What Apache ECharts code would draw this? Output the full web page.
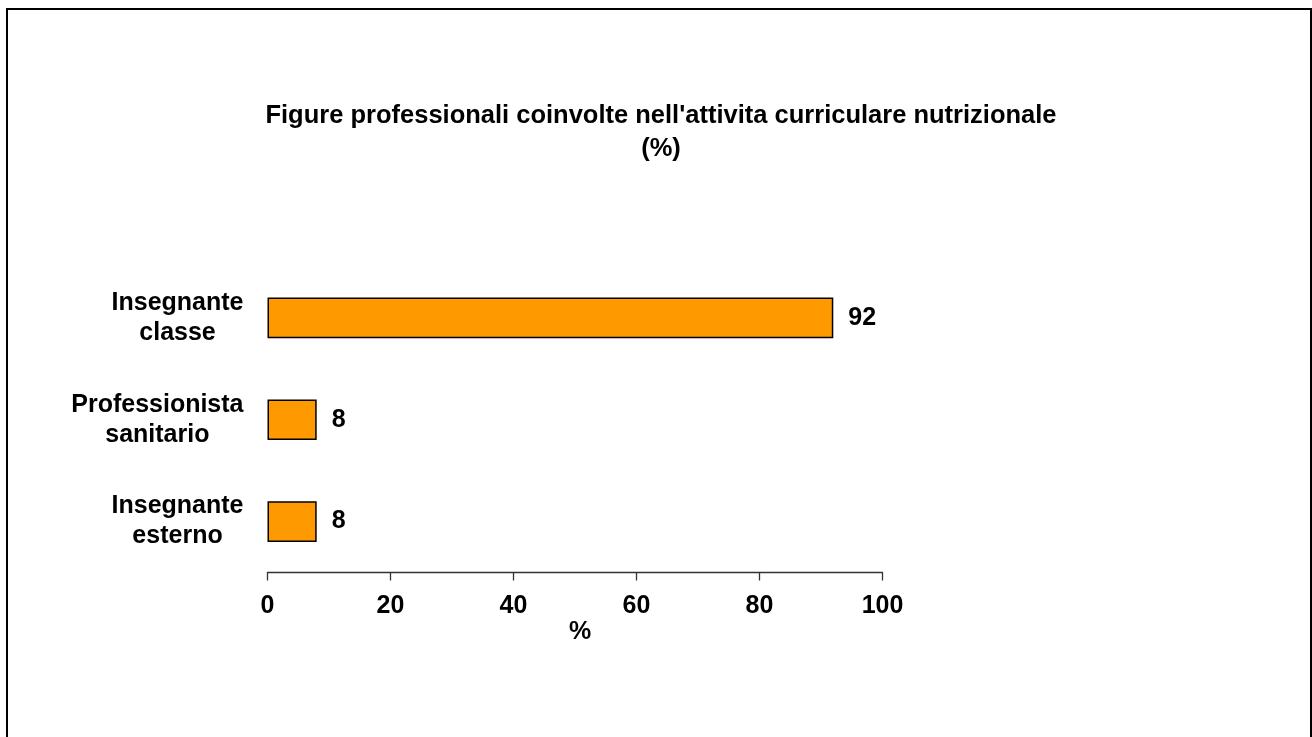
<!DOCTYPE html>
<html>
<head>
<meta charset="utf-8">
<script src="https://cdn.jsdelivr.net/npm/echarts@6/dist/echarts.min.js"></script>
<style>
html,body{margin:0;padding:0;background:#fff;}
#c{width:1312px;height:737px;}
</style>
</head>
<body>
<div id="c"></div>
<script>
var titleText = "Figure professionali coinvolte nell'attivita curriculare nutrizionale\n(%)";
var categories = ["Insegnante\nclasse", "Professionista\nsanitario", "Insegnante\nesterno"];
var values = [92, 8, 8];
var xTicks = [0, 20, 40, 60, 80, 100];

var chart = echarts.init(document.getElementById('c'));
var FONT = 'Liberation Sans, Arial, sans-serif';
chart.setOption({
  animation: false,
  backgroundColor: '#fff',
  title: {
    text: titleText,
    left: 656,
    top: 94,
    textAlign: 'center',
    textStyle: {fontFamily: FONT, fontWeight: 'bold', fontSize: 25.5, color: '#000', lineHeight: 33}
  },
  graphic: [{
    type: 'rect',
    shape: {x: 7, y: 9, width: 1304, height: 800},
    style: {fill: 'none', stroke: '#000', lineWidth: 2},
    silent: true
  }],
  grid: {left: 267.5, right: 429.5, top: 267, bottom: 164.5, containLabel: false},
  xAxis: {
    type: 'value',
    min: xTicks[0],
    max: xTicks[xTicks.length - 1],
    interval: xTicks[1] - xTicks[0],
    name: '%',
    nameLocation: 'middle',
    nameGap: 46,
    nameTextStyle: {fontFamily: FONT, fontWeight: 'bold', fontSize: 25, color: '#000', padding: [0, 0, 0, 10]},
    axisLine: {show: true, lineStyle: {color: '#333', width: 1.3}},
    axisTick: {show: true, length: 8, lineStyle: {color: '#333', width: 1.3}},
    splitLine: {show: false},
    axisLabel: {fontFamily: FONT, fontWeight: 'bold', fontSize: 25, color: '#000', margin: 21}
  },
  yAxis: {
    type: 'category',
    data: categories,
    inverse: true,
    axisLine: {show: false},
    axisTick: {show: false},
    axisLabel: {
      margin: 24,
      align: 'right',
      formatter: function (v) {
        return v.split('\n').map(function (s) { return '{a|' + s + '}'; }).join('\n');
      },
      rich: {
        a: {fontFamily: FONT, fontWeight: 'bold', fontSize: 25, color: '#000', align: 'center', lineHeight: 30}
      }
    }
  },
  series: [{
    type: 'bar',
    data: values,
    barCategoryGap: '60%',
    itemStyle: {color: '#FF9900', borderColor: '#000', borderWidth: 1.5},
    label: {
      show: true,
      position: 'right',
      distance: 15,
      fontFamily: FONT, fontWeight: 'bold', fontSize: 25, color: '#000'
    }
  }]
});
</script>
</body>
</html>
